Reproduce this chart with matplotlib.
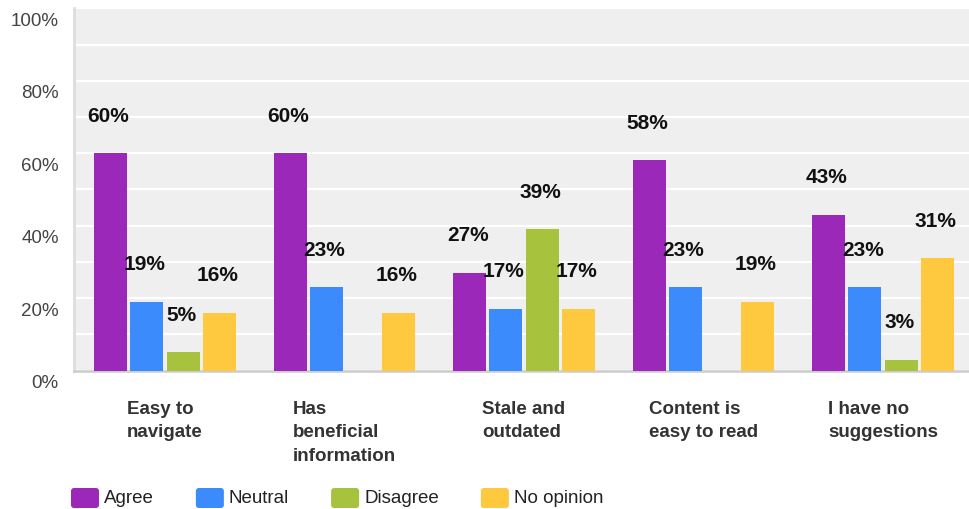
"""
Survey response bar chart: website feedback by statement.
"""

import matplotlib
matplotlib.use('Agg')
import matplotlib.pyplot as plt
from matplotlib.patches import FancyBboxPatch
from matplotlib.ticker import MultipleLocator
from matplotlib.transforms import ScaledTranslation
import numpy as np

plt.rcParams['font.family'] = ['Liberation Sans', 'DejaVu Sans']

# Data
categories = ['Easy to\nnavigate', 'Has\nbeneficial\ninformation', 'Stale and\noutdated',
              'Content is\neasy to read', 'I have no\nsuggestions']
series_names = ['Agree', 'Neutral', 'Disagree', 'No opinion']
agree = [60, 60, 27, 58, 43]
neutral = [19, 23, 17, 23, 23]
disagree = [5, 0, 39, 0, 3]
no_opinion = [16, 16, 17, 19, 31]
y_ticks = [0, 20, 40, 60, 80, 100]

COLORS = ['#9b28b9', '#3b8bfd', '#a7c23c', '#fec93e']

W, H, DPI = 969, 510, 100
fig = plt.figure(figsize=(W / DPI, H / DPI), dpi=DPI)
ax = fig.add_axes([74 / W, 1 - 371.5 / H, (W - 74) / W, (371.5 - 9.4) / H])
ax.set_facecolor('#efefef')

x = np.arange(len(categories))
step = 0.202
width = 0.184
all_series = [agree, neutral, disagree, no_opinion]

for i, (name, vals) in enumerate(zip(series_names, all_series)):
    pos = x + (i - 1.5) * step
    ax.bar(pos, vals, width=width, color=COLORS[i], label=name, zorder=3)
    for px_, v in zip(pos, vals):
        if v == 0:
            continue
        ax.annotate(f'{v}%', (px_, v), xytext=(-2, 38), textcoords='offset pixels',
                    ha='center', va='center', fontsize=15, fontweight='bold',
                    color='#111111', zorder=4)

ax.set_xlim(-0.507, 4.479)
ax.set_ylim(0, 100)

# Grid every 10%, labels every 20%
ax.yaxis.set_minor_locator(MultipleLocator(10))
ax.set_yticks(y_ticks)
ax.set_yticklabels([f'{t}%' for t in y_ticks])
ax.grid(True, axis='y', which='both', color='white', linewidth=1.6, zorder=0)
ax.set_axisbelow(True)
ax.tick_params(axis='y', which='both', length=0, pad=11, labelsize=13.5, labelcolor='#444444')

ax.set_xticks(x)
ax.set_xticklabels(categories, fontsize=13.5, fontweight='bold', color='#333333',
                   linespacing=1.5)
plt.setp(ax.get_xticklabels(), multialignment='left')
ax.tick_params(axis='x', length=0, pad=21)

# y labels sit a bit below their gridlines
shift = ScaledTranslation(0, -10 / DPI, fig.dpi_scale_trans)
for lab in ax.get_yticklabels():
    lab.set_transform(lab.get_transform() + shift)

for side in ['top', 'right']:
    ax.spines[side].set_visible(False)
ax.spines['left'].set_color('#dddddd')
ax.spines['left'].set_linewidth(2)
ax.spines['bottom'].set_color('#cccccc')
ax.spines['bottom'].set_linewidth(1.8)

# Manual legend along the bottom edge (pixel coordinates via inches)
fig.canvas.draw()
renderer = fig.canvas.get_renderer()
cur = 71
for name, col in zip(series_names, COLORS):
    box = FancyBboxPatch((cur / DPI, 1 / DPI), 28 / DPI, 20 / DPI,
                         boxstyle='round,pad=0,rounding_size=0.03',
                         transform=fig.dpi_scale_trans, facecolor=col,
                         edgecolor='none')
    fig.patches.append(box)
    t = fig.text((cur + 33) / DPI, 11 / DPI, name, transform=fig.dpi_scale_trans,
                 ha='left', va='center', fontsize=13.5, color='#222222')
    tw = t.get_window_extent(renderer).width
    cur = cur + 33 + tw + 42

fig.savefig('out.png', dpi=DPI)
